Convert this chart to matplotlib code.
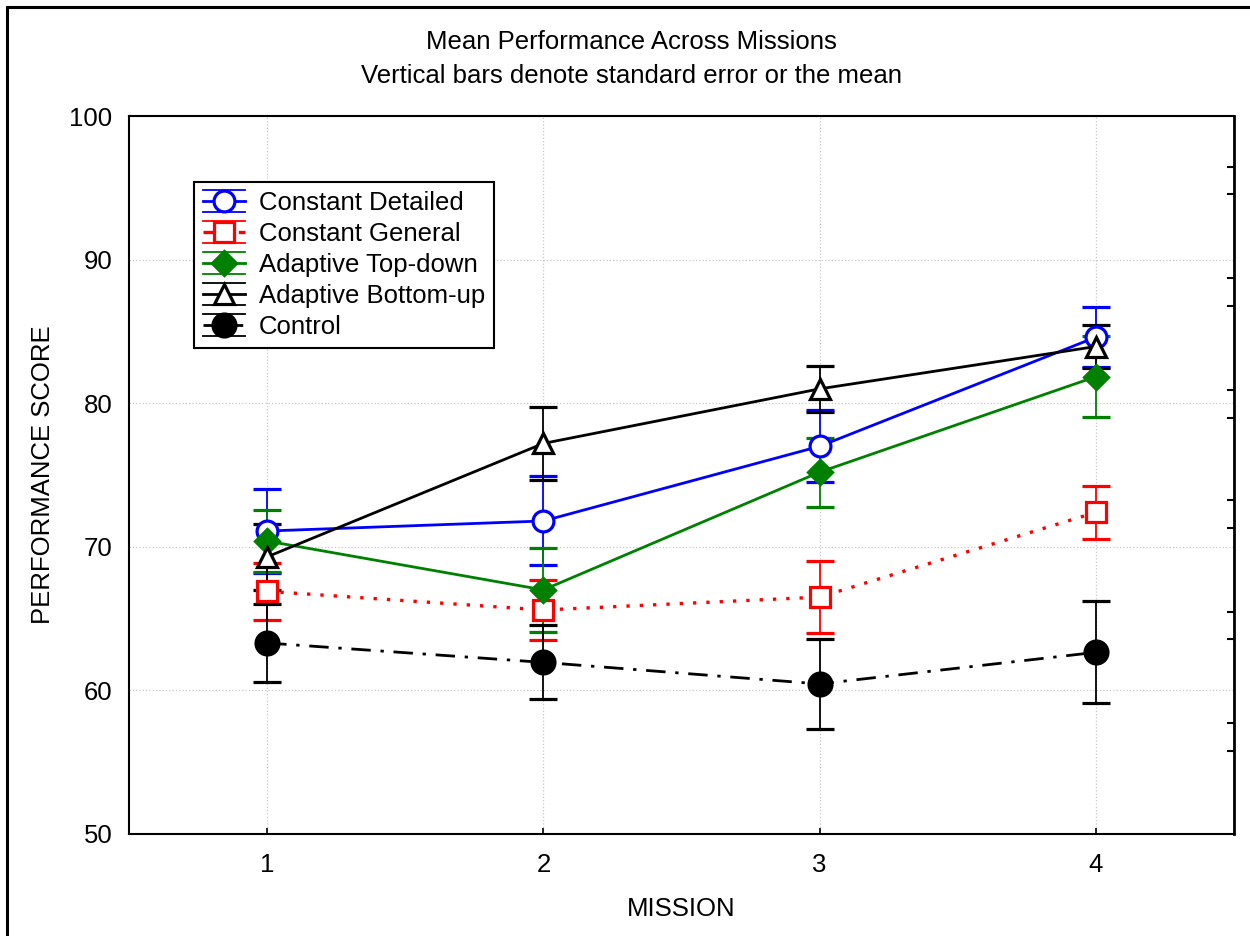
import matplotlib
matplotlib.use('Agg')
import matplotlib.pyplot as plt
from matplotlib.legend_handler import HandlerBase
from matplotlib.container import ErrorbarContainer
from matplotlib.lines import Line2D
import matplotlib.patches as mpatches

plt.rcParams['font.family'] = ['Liberation Sans', 'DejaVu Sans']

# ---------------- data ----------------
missions = [1, 2, 3, 4]
series_names = ['Constant Detailed', 'Constant General', 'Adaptive Top-down',
                'Adaptive Bottom-up', 'Control']
cd_mean = [71.1, 71.8, 77.0, 84.6]
cd_se = [2.9, 3.1, 2.5, 2.1]
cg_mean = [66.9, 65.6, 66.5, 72.4]
cg_se = [2.0, 2.1, 2.5, 1.85]
td_mean = [70.4, 67.0, 75.2, 81.85]
td_se = [2.15, 2.9, 2.4, 2.8]
bu_mean = [69.3, 77.2, 81.0, 83.95]
bu_se = [2.3, 2.55, 1.6, 1.5]
ct_mean = [63.3, 61.95, 60.45, 62.65]
ct_se = [2.75, 2.57, 3.15, 3.55]
y_ticks = [50, 60, 70, 80, 90, 100]
right_ticks = [96.47, 94.55, 88.70, 86.77, 80.92, 78.99, 73.24, 71.29,
               65.48, 63.55, 57.7, 55.8]

means = [cd_mean, cg_mean, td_mean, bu_mean, ct_mean]
ses = [cd_se, cg_se, td_se, bu_se, ct_se]

styles = [
    dict(color='#0000ff', ls='-', lw=2.0, marker='o', mfc='white', ms=15),
    dict(color='#ff0000', ls=(0, (1, 3)), lw=2.4, marker='s', mfc='white', ms=14.5),
    dict(color='#008000', ls='-', lw=2.0, marker='D', mfc='#008000', ms=12.5),
    dict(color='black', ls='-', lw=2.0, marker='^', mfc='white', ms=15),
    dict(color='black', ls=(0, (7, 3.5, 1.2, 3.5)), lw=2.0, marker='o', mfc='black', ms=16.5),
]

FS = 18.5

fig = plt.figure(figsize=(12.5, 9.36), dpi=100)
ax = fig.add_axes([0.1032, 0.109, 0.884, 0.767])

containers = []
for name, m, s, st in zip(series_names, means, ses, styles):
    c = ax.errorbar(missions, m, yerr=s, color=st['color'], ls=st['ls'], lw=st['lw'],
                    marker=st['marker'], mfc=st['mfc'], mec=st['color'],
                    ms=st['ms'], mew=2.3, ecolor=st['color'], elinewidth=1.3,
                    capsize=10, capthick=1.3, label=name)
    containers.append(c)

ax.set_xlim(0.5, 4.5)
ax.set_ylim(50, 100)
ax.set_xticks(missions)
ax.set_yticks(y_ticks)
ax.tick_params(axis='x', direction='in', length=4, width=1.2, pad=14, labelsize=FS)
ax.tick_params(axis='y', direction='in', length=0, pad=12, labelsize=FS)
ax.grid(True, color='#c8c8c8', ls=':', lw=0.9)
for sp in ax.spines.values():
    sp.set_linewidth(1.5)
ax.spines['right'].set_linewidth(2.0)

ax2 = ax.twinx()
ax2.set_ylim(50, 100)
ax2.set_yticks(right_ticks)
ax2.set_yticklabels([])
ax2.tick_params(axis='y', direction='in', length=5, width=1.5)
for sp in ax2.spines.values():
    sp.set_visible(False)

ax.set_xlabel('MISSION', fontsize=FS, labelpad=14)
ax.set_ylabel('PERFORMANCE SCORE', fontsize=FS, labelpad=10)

fig.text(0.505, 0.955, 'Mean Performance Across Missions', ha='center', va='center', fontsize=FS)
fig.text(0.505, 0.919, 'Vertical bars denote standard error or the mean', ha='center', va='center', fontsize=FS)


class CapHandler(HandlerBase):
    def create_artists(self, legend, orig_handle, xdescent, ydescent, width, height,
                       fontsize, trans):
        dl = orig_handle.lines[0]
        col = dl.get_color()
        y0 = height / 2 - ydescent
        off = 11 * 72 / 100
        arts = []
        for yy in (y0 + off, y0 - off):
            arts.append(Line2D([-xdescent, -xdescent + width], [yy, yy], color=col,
                               lw=1.3, transform=trans))
        arts.append(Line2D([-xdescent, -xdescent + width], [y0, y0], color=col,
                           lw=dl.get_linewidth(), ls=dl.get_linestyle(), transform=trans))
        arts.append(Line2D([-xdescent + width / 2], [y0], marker=dl.get_marker(),
                           ms=dl.get_markersize(), mfc=dl.get_markerfacecolor(),
                           mec=col, mew=2.3, ls='none', transform=trans))
        return arts


leg = ax.legend(containers, series_names, loc='upper left',
                bbox_to_anchor=(0.059, 0.908), borderaxespad=0, fontsize=FS,
                handler_map={ErrorbarContainer: CapHandler()},
                handlelength=1.6, handletextpad=0.55, labelspacing=0.265,
                borderpad=0.36, fancybox=False, edgecolor='black', framealpha=1)
leg.get_frame().set_linewidth(1.5)

# outer frame
frame = mpatches.Rectangle((7 / 1250, -0.2), 1.5, 1.2 - 7 / 936,
                           transform=fig.transFigure, fill=False, lw=2.2,
                           edgecolor='black', clip_on=False)
fig.add_artist(frame)

fig.savefig('out.png', dpi=100)
